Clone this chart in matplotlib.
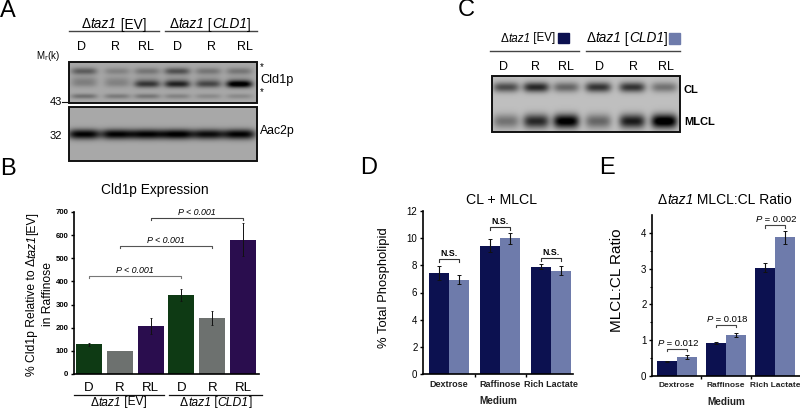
import matplotlib
matplotlib.use('Agg')
import matplotlib.pyplot as plt
from matplotlib.patches import Rectangle
import numpy as np

plt.rcParams['font.family'] = ['Liberation Sans', 'DejaVu Sans']

# panel B
expr_labels = ['D', 'R', 'RL', 'D', 'R', 'RL']
expr_values = [128, 100, 208, 342, 243, 580]
expr_errors = [8, 0, 33, 27, 31, 72]
expr_colors = ['#0e3a14', '#6d716f', '#2a0d4e', '#0e3a14', '#6d716f', '#2a0d4e']
expr_ticks = [0, 100, 200, 300, 400, 500, 600, 700]

# panels D and E
media = ['Dextrose', 'Raffinose', 'Rich Lactate']
total_ev = [7.45, 9.45, 7.9]
total_cld1 = [6.95, 10.0, 7.6]
total_ev_err = [0.5, 0.5, 0.2]
total_cld1_err = [0.35, 0.4, 0.33]
ratio_ev = [0.41, 0.93, 3.03]
ratio_cld1 = [0.53, 1.14, 3.88]
ratio_ev_err = [0.01, 0.03, 0.12]
ratio_cld1_err = [0.05, 0.06, 0.18]
ratio_p = ['0.012', '0.018', '0.002']

# blots, band darkness per lane (0-1), read by eye
blot_a_star1 = [0.3, 0.15, 0.2, 0.35, 0.2, 0.2]
blot_a_smear = [0.12, 0.1, 0.1, 0.1, 0.1, 0.1]
blot_a_cld1 = [0.1, 0.1, 0.42, 0.5, 0.35, 0.7]
blot_a_star2 = [0.22, 0.18, 0.2, 0.15, 0.12, 0.12]
blot_a_aac2 = [0.66, 0.66, 0.66, 0.68, 0.62, 0.66]
blot_c_cl = [0.45, 0.6, 0.35, 0.55, 0.55, 0.3]
blot_c_mlcl = [0.3, 0.6, 0.8, 0.35, 0.65, 0.85]

DARK = '#0c1150'
LIGHT = '#6e7bab'
W, H = 800, 409

fig = plt.figure(figsize=(8, 4.09), dpi=100)


def px_axes(left, top, right, bottom):
    ax = fig.add_axes([left / W, 1 - bottom / H, (right - left) / W, (bottom - top) / H])
    ax.spines['top'].set_visible(False)
    ax.spines['right'].set_visible(False)
    ax.spines['left'].set_linewidth(1.2)
    ax.spines['bottom'].set_linewidth(1.2)
    ax.tick_params(axis='y', length=2.5, width=1, pad=1.5)
    return ax


def bracket(ax, x0, x1, y, drop, text, size=6.5, color='#444444', **kw):
    ax.plot([x0, x0, x1, x1], [y - drop, y, y, y - drop], color=color, lw=0.8, clip_on=False)
    ax.text((x0 + x1) / 2, y + drop * 0.4, text, ha='center', va='bottom', fontsize=size,
            clip_on=False, **kw)


def grouped(ax, ev, cld1, ev_err, cld1_err, label_size=6.5):
    pos = np.arange(len(media))
    ax.bar(pos - 0.2, ev, 0.4, color=DARK)
    ax.bar(pos + 0.2, cld1, 0.4, color=LIGHT)
    ekw = dict(fmt='none', ecolor='#111111', elinewidth=0.8, capsize=1.3, capthick=0.7)
    ax.errorbar(pos - 0.2, ev, yerr=ev_err, **ekw)
    ax.errorbar(pos + 0.2, cld1, yerr=cld1_err, **ekw)
    ax.set_xticks(pos)
    ax.set_xticklabels(media, fontsize=label_size, fontweight='bold', color='#222222')
    ax.tick_params(axis='x', which='major', length=0, pad=4)
    ax.set_xticks([0.5, 1.5], minor=True)
    ax.tick_params(axis='x', which='minor', length=2.5, width=1)


# panel B chart
ax_b = px_axes(74, 212, 259, 374)
ax_b.bar(range(6), expr_values, 0.84, color=expr_colors)
ax_b.errorbar([0, 2, 3, 4, 5], [expr_values[i] for i in (0, 2, 3, 4, 5)],
              yerr=[expr_errors[i] for i in (0, 2, 3, 4, 5)],
              fmt='none', ecolor='#111111', elinewidth=0.7, capsize=0.8, capthick=0.6)
ax_b.set_xlim(-0.487, 5.52)
ax_b.set_ylim(0, 700)
ax_b.set_yticks(expr_ticks)
ax_b.tick_params(axis='y', labelsize=5.6)
plt.setp(ax_b.get_yticklabels(), fontweight='bold')
ax_b.set_xticks(range(6))
ax_b.set_xticklabels(expr_labels, fontsize=9.5)
ax_b.tick_params(axis='x', length=0, pad=6)
bracket(ax_b, 0, 3, 425, 10, 'P < 0.001', 6.4, '#777777', style='italic')
bracket(ax_b, 1, 4, 555, 10, 'P < 0.001', 6.4, '#555555', style='italic')
bracket(ax_b, 2, 5, 675, 10, 'P < 0.001', 6.4, '#444444', style='italic')

# panel D chart
ax_d = px_axes(423, 211, 573, 374)
grouped(ax_d, total_ev, total_cld1, total_ev_err, total_cld1_err)
ax_d.set_xlim(-0.51, 2.43)
ax_d.set_ylim(0, 12)
ax_d.set_yticks(range(0, 13, 2))
ax_d.tick_params(axis='y', labelsize=7)
bracket(ax_d, -0.2, 0.2, 8.45, 0.2, 'N.S.', 6.3, fontweight='bold', color='#333333')
bracket(ax_d, 0.8, 1.2, 10.8, 0.2, 'N.S.', 6.3, fontweight='bold', color='#333333')
bracket(ax_d, 1.8, 2.2, 8.55, 0.2, 'N.S.', 6.3, fontweight='bold', color='#333333')

# panel E chart
ax_e = px_axes(652, 215, 800, 376)
grouped(ax_e, ratio_ev, ratio_cld1, ratio_ev_err, ratio_cld1_err, label_size=6.0)
ax_e.set_xlim(-0.51, 2.51)
ax_e.set_ylim(0, 4.5)
ax_e.set_yticks(range(0, 5))
ax_e.set_yticks(np.arange(0.5, 4.5, 1), minor=True)
ax_e.tick_params(axis='y', labelsize=7)
ax_e.tick_params(axis='y', which='minor', length=1.5, width=0.8)
for i, top in enumerate([0.76, 1.43, 4.22]):
    ax_e.plot([i - 0.2, i - 0.2, i + 0.2, i + 0.2], [top - 0.07, top, top, top - 0.07],
              color='#444444', lw=0.8, clip_on=False)

# overlay in picture pixels for blots and labels
ov = fig.add_axes([0, 0, 1, 1], facecolor='none')
ov.axis('off')


def blot(left, top, right, bottom, lanes, rows, half_w=13, bg=0.62):
    xs, ys = np.meshgrid(np.arange(left, right, 0.5), np.arange(top, bottom, 0.5))
    dark = np.zeros_like(xs)
    for y_band, sigma, values in rows:
        for x_lane, v in zip(lanes, values):
            dark += v * np.exp(-((xs - x_lane) / half_w) ** 4 - ((ys - y_band) / sigma) ** 2)
    img = np.clip(bg - dark, 0, 1)
    ov.imshow(img, cmap='gray', vmin=0, vmax=1, extent=(left, right, bottom, top),
              aspect='auto', interpolation='bilinear')
    ov.add_patch(Rectangle((left, top), right - left, bottom - top, fill=False, ec='#111111', lw=1.4))


lanes_a = [84, 117, 147, 177, 208, 239]
lanes_c = [506, 536, 566, 598, 632, 664]
blot(69, 62, 257, 103, lanes_a, [(71, 3.5, blot_a_star1), (80, 4, blot_a_smear),
                                 (84, 3.5, blot_a_cld1), (96, 2.5, blot_a_star2)], bg=0.66)
blot(69, 107, 257, 161, lanes_a, [(134, 5, blot_a_aac2)], half_w=16, bg=0.66)
blot(492, 76, 680, 132, lanes_c, [(87, 5, blot_c_cl), (121, 7, blot_c_mlcl)], bg=0.75)

ov.set_xlim(0, W)
ov.set_ylim(H, 0)
renderer = fig.canvas.get_renderer()


def label(x, y, s, size=8, ha='center', **kw):
    return ov.text(x, y, s, fontsize=size, ha=ha, va='center', **kw)


def rich(x, y, pieces, size, rotation=0):
    # pieces of (text, style), centred on x, y; runs upwards when rotated
    widths = []
    for s, style in pieces:
        t = ov.text(0, 0, s.replace(' ', '\u00a0'), fontsize=size, style=style)
        widths.append(t.get_window_extent(renderer).width)
        t.remove()
    pos = -sum(widths) / 2
    for (s, style), w in zip(pieces, widths):
        s = s.replace(' ', '\u00a0')
        if rotation:
            ov.text(x, y - pos, s, fontsize=size, style=style, rotation=90,
                    ha='center', va='bottom', rotation_mode='default')
        else:
            ov.text(x + pos, y, s, fontsize=size, style=style, ha='left', va='center_baseline')
        pos += w


for letter, x, y in [('A', 8, 11), ('B', 8, 169), ('C', 466, 10), ('D', 369, 168), ('E', 607, 168)]:
    label(x, y, letter, 17)

EV = [('\u0394', 'normal'), ('taz1', 'italic'), (' [EV]', 'normal')]
CLD = [('\u0394', 'normal'), ('taz1', 'italic'), (' [', 'normal'), ('CLD1', 'italic'), (']', 'normal')]

# panel A text
rich(114, 23, EV, 9.8)
rich(210, 23, CLD, 9.8)
ov.plot([69, 159], [31, 31], color='#444444', lw=1)
ov.plot([165, 257], [31, 31], color='#444444', lw=1)
for x, s in zip([82, 115, 146, 178, 212, 245], expr_labels):
    label(x, 47, s, 9)
label(48, 56, 'M$_\\mathrm{r}$(k)', 7)
label(56, 102, '43', 8)
ov.plot([62, 69], [102, 102], color='#111111', lw=0.8)
label(56, 136, '32', 8)
label(260, 80, 'Cld1p', 9.2, ha='left')
label(260, 131, 'Aac2p', 8.8, ha='left')
label(262, 67, '*', 7)
label(262, 92, '*', 7)

# panel B text
label(155, 190, 'Cld1p Expression', 9.9)
rich(32, 294, [('% Cld1p Relative to \u0394', 'normal'), ('taz1', 'italic'), ('[EV]', 'normal')], 8.7, rotation=90)
label(48, 294, 'in Raffinose', 8.7, rotation=90)
ov.plot([74, 164], [395, 395], color='#111111', lw=0.9)
ov.plot([169, 262], [395, 395], color='#111111', lw=0.9)
rich(119, 401, EV, 8.6)
rich(216, 401, CLD, 8.7)

# panel C text
rich(528, 37, EV, 8.4)
rich(627, 37, CLD, 9.8)
ov.add_patch(Rectangle((558, 33), 11, 10, color=DARK))
ov.add_patch(Rectangle((669, 33), 11, 11, color=LIGHT))
ov.plot([490, 579], [51, 51], color='#444444', lw=1)
ov.plot([586, 680], [51, 51], color='#444444', lw=1)
for x, s in zip([503, 535, 566, 599, 633, 666], expr_labels):
    label(x, 67, s, 9)
label(684, 90, 'CL', 8, ha='left', fontweight='bold')
label(684, 122, 'MLCL', 8, ha='left', fontweight='bold')

# panel D text
label(501, 200, 'CL + MLCL', 10.2)
label(384, 288, '% Total Phospholipid', 9.4, rotation=90)
label(498, 401, 'Medium', 7.2, fontweight='bold', color='#222222')

# panel E text
rich(725, 199, [('\u0394', 'normal'), ('taz1', 'italic'), (' MLCL:CL Ratio', 'normal')], 10)
label(617, 280, 'MLCL:CL Ratio', 11, rotation=90)
label(726, 402, 'Medium', 7.2, fontweight='bold', color='#222222')

# P values above the brackets of panel E
for x, y, p in zip([678, 727, 776], [343, 319, 218], ratio_p):
    rich(x, y, [('P', 'italic'), (' = ' + p, 'normal')], 6.8)

fig.savefig('out.png', dpi=100)
